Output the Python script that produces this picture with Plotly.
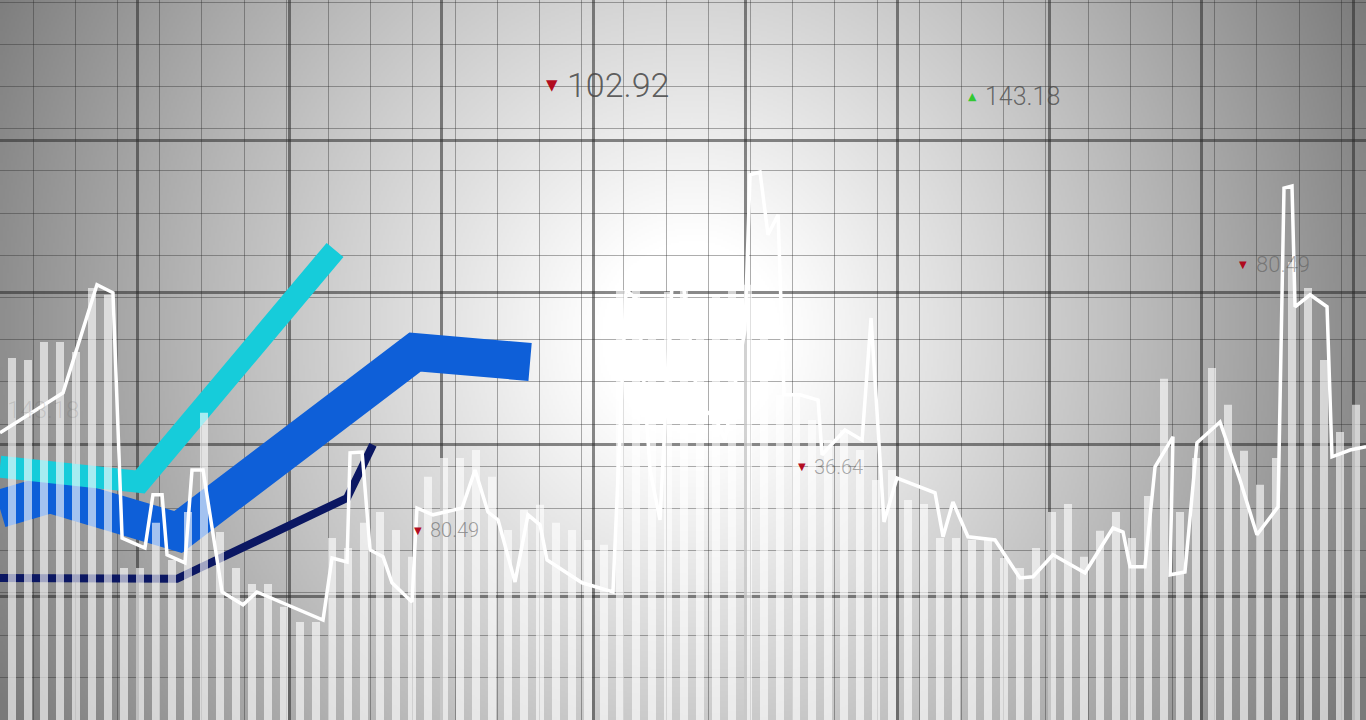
import base64, struct, zlib
import numpy as np
import plotly.graph_objects as go

# ---------------- data ----------------
volume = [90.5, 90, 94.5, 94.5, 92, 108, 106.3, 38, 38, 49.3, 40, 52, 76.8, 47, 38, 34, 34, 28.3,
          24.5, 24.5, 45.5, 43, 49.3, 52, 47.5, 40.8, 60.8, 65.5, 65.5, 67.5, 60.8, 47.5, 52.5, 53.8,
          49.3, 47.5, 45, 43.8, 107.5, 108.5, 105, 107, 108, 105, 106.3, 107.5, 108.8, 105, 81.3, 81.3,
          75, 70, 72.5, 67.5, 60, 62.5, 55, 54, 45.5, 45.5, 45, 45, 40.5, 38, 43, 52, 54, 40.8, 47.3,
          52, 45.5, 56, 85.3, 52, 65.5, 88, 78.8, 67.3, 58.8, 65.5, 114.5, 108, 90, 72, 78.8]
sessions = list(range(len(volume)))

price_t = [-0.75, 3.19, 5.31, 6.31, 6.88, 8.31, 8.81, 9.38, 9.69, 10.81, 11.25, 11.94, 13.13, 14.44,
           15.31, 19.44, 20.0, 20.94, 21.13, 21.88, 22.38, 23.19, 23.75, 25.0, 25.31, 26.31, 28.13,
           28.94, 29.75, 30.38, 31.44, 32.25, 33.0, 33.44, 35.63, 37.56, 38.38, 39.13, 39.88, 40.5,
           41.25, 42.0, 43.0, 43.75, 44.56, 45.81, 46.13, 46.75, 47.25, 47.88, 48.25, 49.25, 50.38,
           50.63, 52.06, 53.13, 53.69, 54.5, 55.31, 57.69, 58.19, 58.81, 59.75, 61.44, 63.0, 63.81,
           65.06, 67.06, 68.81, 69.44, 69.88, 70.81, 71.44, 72.56, 72.38, 73.31, 74.06, 75.5, 76.75,
           77.81, 79.13, 79.5, 80.0, 80.19, 81.13, 82.19, 82.5, 83.63, 84.63]
price = [71.8, 81.8, 108.8, 106.8, 45.5, 43, 56.3, 56.3, 41.3, 39.3, 62.5, 62.5, 32, 28.8, 32, 25,
         40.5, 39.5, 66.8, 67, 42.5, 40.8, 34.3, 29.5, 53, 51.3, 53, 62.5, 52, 50, 34.5, 51.3, 48.8,
         40, 34.3, 32, 107.5, 105, 62.5, 50, 108.8, 107.5, 75, 77.5, 70, 97.5, 136.3, 137, 121.3,
         126.3, 81.3, 81.3, 80, 66.3, 72.5, 70, 100.5, 49.5, 60.5, 56.8, 45.8, 54.5, 45.8, 45, 35.5,
         35.8, 41.3, 36.8, 48, 47, 38.3, 38.3, 63.3, 70.8, 36.3, 37, 69.3, 74.5, 60, 46.3, 53.3, 133,
         133.5, 103.3, 106.3, 103.3, 65.8, 67.5, 68.3]

cyan_t = [-0.75, 8.0, 20.19]
cyan_v = [63.3, 59.5, 117.5]
blue_t = [-0.75, 2.38, 10.38, 25.19, 32.38]
blue_v = [52.8, 56.5, 47.0, 92.0, 89.5]
navy_t = [-0.75, 10.31, 20.94, 22.56]
navy_v = [35.5, 35.3, 55.5, 68.8]

quotes = ["102.92", "143.18", "80.49", "36.64", "80.49"]
quote_t = [33.75, 60.0, 76.94, 49.38, 25.38]
quote_v = [158.8, 155.8, 113.8, 63.3, 47.5]
quote_dir = ["down", "up", "down", "down", "down"]
quote_size = [34, 25, 22, 20, 20]
quote_alpha = [0.85, 0.75, 0.45, 0.45, 0.5]

ghost_label = "143.18"
ghost_t, ghost_v = -0.45, 77.5

W, H = 1366, 720
XR = [-0.75, 84.625]
YR = [0, 180]

# ---------------- background gradient (style) ----------------
gw, gh = 683, 360
yy, xx = np.mgrid[0:gh, 0:gw]
px = (xx + 0.5) * W / gw
py = (yy + 0.5) * H / gh
dx = np.where(px < 690, (px - 690) / 690, (px - 690) / 660)
dy = (py - 330) / 700
d = np.sqrt(dx ** 2 + dy ** 2)
b = 256 - 114 * d ** 1.3
b = b + 10 * np.exp(-(((px - 700) / 170) ** 2 + ((py - 360) / 200) ** 2))
b = np.clip(b, 122, 255).astype(np.uint8)


def png_gray(arr):
    h, w = arr.shape
    raw = b"".join(b"\x00" + arr[r].tobytes() for r in range(h))

    def chunk(t, dat):
        c = struct.pack(">I", len(dat)) + t + dat
        return c + struct.pack(">I", zlib.crc32(t + dat) & 0xffffffff)

    return (b"\x89PNG\r\n\x1a\n" + chunk(b"IHDR", struct.pack(">IIBBBBB", w, h, 8, 0, 0, 0, 0))
            + chunk(b"IDAT", zlib.compress(raw, 9)) + chunk(b"IEND", b""))


bg_src = "data:image/png;base64," + base64.b64encode(png_gray(b)).decode()

# ---------------- figure ----------------
fig = go.Figure()

# thick trend bands (main subplot, drawn first)
fig.add_trace(go.Scatter(x=navy_t, y=navy_v, mode="lines",
                         line=dict(color="#0b1762", width=8), showlegend=False, hoverinfo="skip"))
fig.add_trace(go.Scatter(x=blue_t, y=blue_v, mode="lines",
                         line=dict(color="#0e5fd8", width=38), showlegend=False, hoverinfo="skip"))
fig.add_trace(go.Scatter(x=cyan_t, y=cyan_v, mode="lines",
                         line=dict(color="#16ccda", width=22), showlegend=False, hoverinfo="skip"))

# grid carrier traces
fig.add_trace(go.Scatter(x=[None], y=[None], xaxis="x2", yaxis="y2", showlegend=False, hoverinfo="skip"))
fig.add_trace(go.Scatter(x=[None], y=[None], xaxis="x3", yaxis="y3", showlegend=False, hoverinfo="skip"))

# volume bars (overlay subplot so they sit above the bands)
fig.add_trace(go.Bar(x=sessions, y=volume, width=0.5, xaxis="x4", yaxis="y4",
                     marker=dict(color="rgba(255,255,255,0.62)", line=dict(width=0)),
                     showlegend=False, hoverinfo="skip"))

# price line
fig.add_trace(go.Scatter(x=price_t, y=price, mode="lines", xaxis="x4", yaxis="y4",
                         line=dict(color="white", width=3.5), showlegend=False, hoverinfo="skip"))

# labels
annotations = []
for q, t, v, dr, s, a in zip(quotes, quote_t, quote_v, quote_dir, quote_size, quote_alpha):
    tri = "▼" if dr == "down" else "▲"
    tcol = "rgba(176,0,20,0.95)" if dr == "down" else "rgba(40,200,40,0.95)"
    annotations.append(dict(x=t, y=v, xref="x", yref="y", text=tri, showarrow=False,
                            font=dict(size=max(10, int(s * 0.45)), color=tcol, family="DejaVu Sans"),
                            xanchor="center", yanchor="middle"))
    annotations.append(dict(x=t + 0.45 + s * 0.01, y=v, xref="x", yref="y", text=q, showarrow=False,
                            font=dict(size=s, color=f"rgba(70,70,70,{a})", family="Roboto", weight=300),
                            xanchor="left", yanchor="middle"))
annotations.append(dict(x=ghost_t, y=ghost_v, xref="x", yref="y", text=ghost_label, showarrow=False,
                        font=dict(size=24, color="rgba(90,90,90,0.18)", family="Roboto", weight=300),
                        xanchor="left", yanchor="middle"))

hidden = dict(showgrid=False, zeroline=False, showticklabels=False, ticks="", showline=False)

fig.update_layout(
    width=W, height=H, autosize=False,
    margin=dict(l=0, r=0, t=0, b=0, pad=0),
    paper_bgcolor="rgba(0,0,0,0)", plot_bgcolor="rgba(0,0,0,0)",
    barmode="overlay", showlegend=False, hovermode=False,
    xaxis=dict(range=XR, **hidden),
    yaxis=dict(range=YR, **hidden),
    xaxis4=dict(overlaying="x", range=XR, anchor="y4", **hidden),
    yaxis4=dict(overlaying="y", range=YR, anchor="x4", **hidden),
    xaxis2=dict(overlaying="x", range=[0, W], anchor="y2", showgrid=True, tick0=33, dtick=42.2,
                gridcolor="rgba(40,40,40,0.38)", gridwidth=1.2, zeroline=False,
                showticklabels=False, ticks="", showline=False),
    yaxis2=dict(overlaying="y", range=[H, 0], anchor="x2", showgrid=True, tick0=2.1, dtick=42.2,
                gridcolor="rgba(40,40,40,0.38)", gridwidth=1.2, zeroline=False,
                showticklabels=False, ticks="", showline=False),
    xaxis3=dict(overlaying="x", range=[0, W], anchor="y3", showgrid=True, tick0=137, dtick=152,
                gridcolor="rgba(40,40,40,0.55)", gridwidth=2.6, zeroline=False,
                showticklabels=False, ticks="", showline=False),
    yaxis3=dict(overlaying="y", range=[H, 0], anchor="x3", showgrid=True, tick0=140, dtick=152,
                gridcolor="rgba(40,40,40,0.55)", gridwidth=2.6, zeroline=False,
                showticklabels=False, ticks="", showline=False),
    images=[dict(source=bg_src, xref="paper", yref="paper", x=0, y=1, sizex=1, sizey=1,
                 xanchor="left", yanchor="top", sizing="stretch", layer="below")],
    annotations=annotations,
)

fig.write_html("out.html", config={"displayModeBar": False},
               post_script="document.body.style.margin='0';document.body.style.overflow='hidden';")
